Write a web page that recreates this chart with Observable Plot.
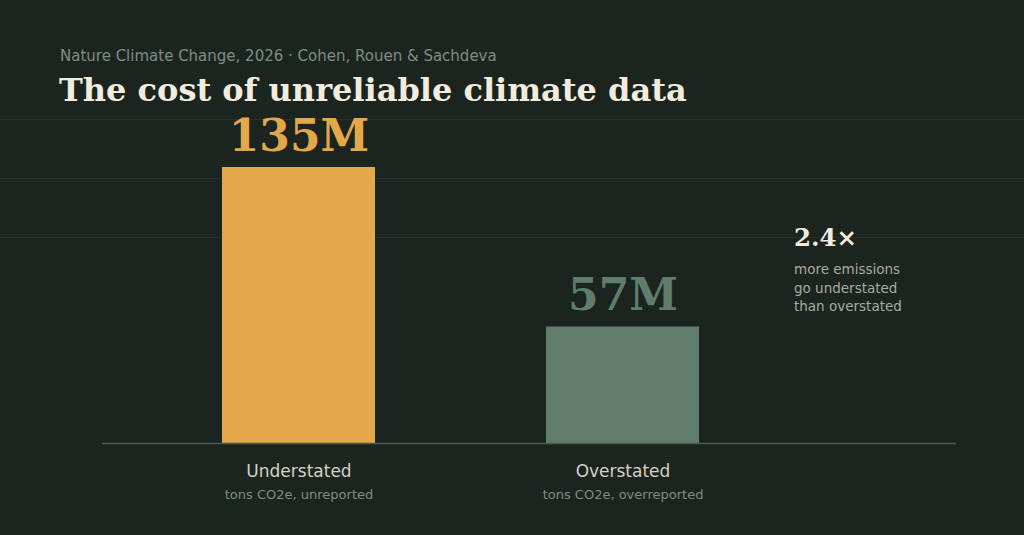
<!DOCTYPE html>
<html>
<head>
<meta charset="utf-8">
<script src="https://cdn.jsdelivr.net/npm/d3@7"></script>
<script src="https://cdn.jsdelivr.net/npm/@observablehq/plot@0.6"></script>
<style>
  html, body { margin: 0; padding: 0; background: #1c2420; }
  #wrap { position: relative; width: 1024px; height: 535px; overflow: hidden; background: #1c2420; }
  .grid { position: absolute; left: 0; width: 1024px; height: 1px; background: #28312b; }
  #kicker { position: absolute; left: 60px; top: 49px; font: 15px/15px "DejaVu Sans", sans-serif; color: #7f8d82; white-space: nowrap; }
  #title { position: absolute; left: 59px; top: 74px; font: bold 32px/32px "DejaVu Serif", serif; color: #f2ecdf; white-space: nowrap; }
  #note { position: absolute; left: 794px; top: 226px; }
  #note .big { font: bold 24.5px/24px "DejaVu Serif", serif; color: #f2ecdf; white-space: nowrap; }
  #note .small { margin-top: 10px; font: 13.5px/18.5px "DejaVu Sans", sans-serif; color: #a9aa9e; white-space: nowrap; }
  #chart { position: absolute; left: 0; top: 0; }
</style>
</head>
<body>
<div id="wrap">
  <div class="grid" style="top:119px"></div>
  <div class="grid" style="top:178px"></div>
  <div class="grid" style="top:237px"></div>
  <div id="kicker">Nature Climate Change, 2026 · Cohen, Rouen &amp; Sachdeva</div>
  <div id="title">The cost of unreliable climate data</div>
  <div id="chart"></div>
  <div id="note"><div class="big"></div><div class="small">more emissions<br>go understated<br>than overstated</div></div>
</div>
<script>
const categories = ["Understated", "Overstated"];
const values = [135, 57]; // million tons CO2e
const sublabels = ["tons CO2e, unreported", "tons CO2e, overreported"];
const colors = ["#e3a84a", "#5f7d6a"];

const data = categories.map((c, i) => ({cat: c, value: values[i], sub: sublabels[i]}));

document.querySelector("#note .big").textContent = (values[0] / values[1]).toFixed(1) + "×";

const chart = Plot.plot({
  width: 1024,
  height: 535,
  marginLeft: 102,
  marginRight: 68,
  marginTop: 167,
  marginBottom: 92,
  style: {background: "transparent", overflow: "visible"},
  x: {domain: categories, range: [222, 699], paddingInner: 0.528, paddingOuter: 0, axis: null},
  y: {domain: [0, d3.max(values)], axis: null},
  color: {domain: categories, range: colors},
  marks: [
    Plot.barY(data, {x: "cat", y: "value", fill: "cat"}),
    Plot.ruleY([0], {stroke: "#4a5c4f", strokeWidth: 1.5}),
    Plot.text(data, {x: "cat", y: "value", text: d => d.value + "M", fill: "cat",
      lineAnchor: "bottom", dy: -17, fontSize: 44, fontWeight: "bold",
      fontFamily: "DejaVu Serif, serif"}),
    Plot.text(data, {x: "cat", text: "cat", frameAnchor: "bottom", lineAnchor: "bottom",
      dy: 33, fontSize: 17, fill: "#d6d1c3", fontFamily: "DejaVu Sans, sans-serif"}),
    Plot.text(data, {x: "cat", text: "sub", frameAnchor: "bottom", lineAnchor: "bottom",
      dy: 55, fontSize: 13, fill: "#7f8d82", fontFamily: "DejaVu Sans, sans-serif"})
  ]
});
document.getElementById("chart").appendChild(chart);
</script>
</body>
</html>
